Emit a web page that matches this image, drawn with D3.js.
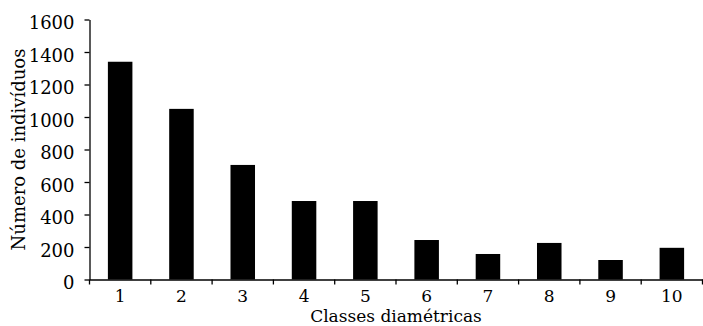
<!DOCTYPE html>
<html>
<head>
<meta charset="utf-8">
<script src="https://cdn.jsdelivr.net/npm/d3@7"></script>
<style>
  html, body { margin: 0; padding: 0; background: #fff; }
  svg { display: block; }
  svg text { font-family: 'DejaVu Serif', serif; font-size: 18px; fill: #000; }
  .xaxis text, .xtitle { font-size: 17px; }
</style>
</head>
<body>
<svg id="chart" width="703" height="326"></svg>
<script>
const classes = ['1', '2', '3', '4', '5', '6', '7', '8', '9', '10'];
const counts = [1340, 1050, 705, 483, 483, 243, 157, 225, 120, 195];
const yTicks = [0, 200, 400, 600, 800, 1000, 1200, 1400, 1600];
const xTitle = 'Classes diamétricas';
const yTitle = 'Número de indivíduos';

const data = classes.map((c, i) => ({ cls: c, n: counts[i] }));

const svgW = 703;
const svgH = 326;
const margin = { top: 19.5, right: 0.5, bottom: 46.5, left: 89.5 };
const width = svgW - margin.left - margin.right;
const height = svgH - margin.top - margin.bottom;

const svg = d3.select('#chart');
const g = svg.append('g')
  .attr('transform', `translate(${margin.left},${margin.top})`);

const x = d3.scaleBand()
  .domain(classes)
  .range([0, width])
  .padding(0);

const y = d3.scaleLinear()
  .domain([0, 1600])
  .range([height, 0]);

// bars
const barW = x.bandwidth() * 0.4;
g.selectAll('.bar')
  .data(data)
  .enter()
  .append('rect')
  .attr('class', 'bar')
  .attr('x', d => x(d.cls) + (x.bandwidth() - barW) / 2)
  .attr('y', d => y(d.n))
  .attr('width', barW)
  .attr('height', d => height - y(d.n))
  .attr('fill', '#000');

// y axis
const yAxis = d3.axisLeft(y)
  .tickValues(yTicks)
  .tickFormat(d3.format('d'))
  .tickSizeInner(5)
  .tickSizeOuter(0)
  .tickPadding(10);

const ya = g.append('g').attr('class', 'yaxis').call(yAxis);
ya.attr('font-family', null).attr('font-size', null);
ya.selectAll('.domain').attr('stroke', '#000').attr('stroke-width', 1.3);
ya.selectAll('.tick line').attr('stroke', '#000').attr('stroke-width', 1.3);
ya.selectAll('.tick text').attr('dy', '0.5em');

// x axis, ticks sit on the band boundaries
const xAxis = d3.axisBottom(x)
  .tickSizeInner(0)
  .tickSizeOuter(0)
  .tickPadding(10.4);

const xa = g.append('g')
  .attr('class', 'xaxis')
  .attr('transform', `translate(0,${height})`)
  .call(xAxis);
xa.attr('font-family', null).attr('font-size', null);
xa.selectAll('.domain').attr('stroke', '#000').attr('stroke-width', 1.3);

const bounds = classes.map(c => x(c)).concat([width]);
xa.selectAll('.bound')
  .data(bounds)
  .enter()
  .append('line')
  .attr('class', 'bound')
  .attr('x1', d => d)
  .attr('x2', d => d)
  .attr('y1', 0)
  .attr('y2', 5)
  .attr('stroke', '#000')
  .attr('stroke-width', 1.3);

// titles
svg.append('text')
  .attr('class', 'xtitle')
  .attr('x', margin.left + width / 2)
  .attr('y', 321.8)
  .attr('text-anchor', 'middle')
  .text(xTitle);

svg.append('text')
  .attr('transform', `translate(25,${margin.top + height / 2}) rotate(-90)`)
  .attr('text-anchor', 'middle')
  .text(yTitle);
</script>
</body>
</html>
